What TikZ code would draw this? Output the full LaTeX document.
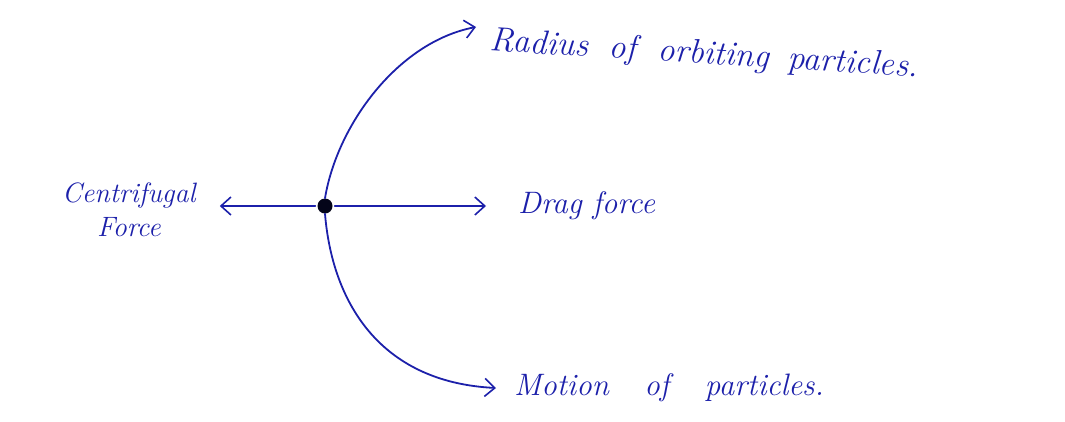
\documentclass[tikz,border=0pt]{standalone}
\usetikzlibrary{arrows.meta}
\definecolor{ink}{RGB}{28,32,170}
\begin{document}
\begin{tikzpicture}[x=1pt,y=-1pt,
  pen/.style={draw=ink,line width=1.8pt,line cap=round,-{Straight Barb[length=10pt,width=18pt,line width=1.6pt]}},
  lbl/.style={text=ink,font=\fontsize{30}{34}\selectfont\itshape,inner sep=2pt}]
\useasboundingbox (0,0) rectangle (1065,421);
\node[circle,fill=black!85!ink,inner sep=0pt,minimum size=15pt] (c) at (325,206) {};
\node[lbl,align=center,anchor=west,font=\fontsize{28}{34}\selectfont\itshape] (cf) at (60,210) {Centrifugal\\Force};
\node[lbl,anchor=west,font=\fontsize{31}{36}\selectfont\itshape] (drag) at (516,206) {Drag force};
\node[lbl,anchor=west,rotate=-3.5,font=\fontsize{34}{36}\selectfont\itshape] (rad) at (488,42) {Radius\hspace{0.25em} of\hspace{0.3em} orbiting\hspace{0.2em} particles.};
\node[lbl,anchor=west,font=\fontsize{31}{36}\selectfont\itshape] (mot) at (512,388) {Motion\hspace{0.8em} of\hspace{0.8em} particles.};
\draw[pen] ([xshift=-2pt]c.west) -- ([xshift=22pt]cf.east |- c.west);
\draw[pen] ([xshift=2pt]c.east) -- ([xshift=-30pt]drag.west);
\draw[pen] (c.north) .. controls (337,125) and (398,42) .. ([shift={(-12pt,15pt)}]rad.west);
\draw[pen] (c.south) .. controls (332,300) and (378,382) .. ([xshift=-16pt]mot.west);
\end{tikzpicture}
\end{document}
